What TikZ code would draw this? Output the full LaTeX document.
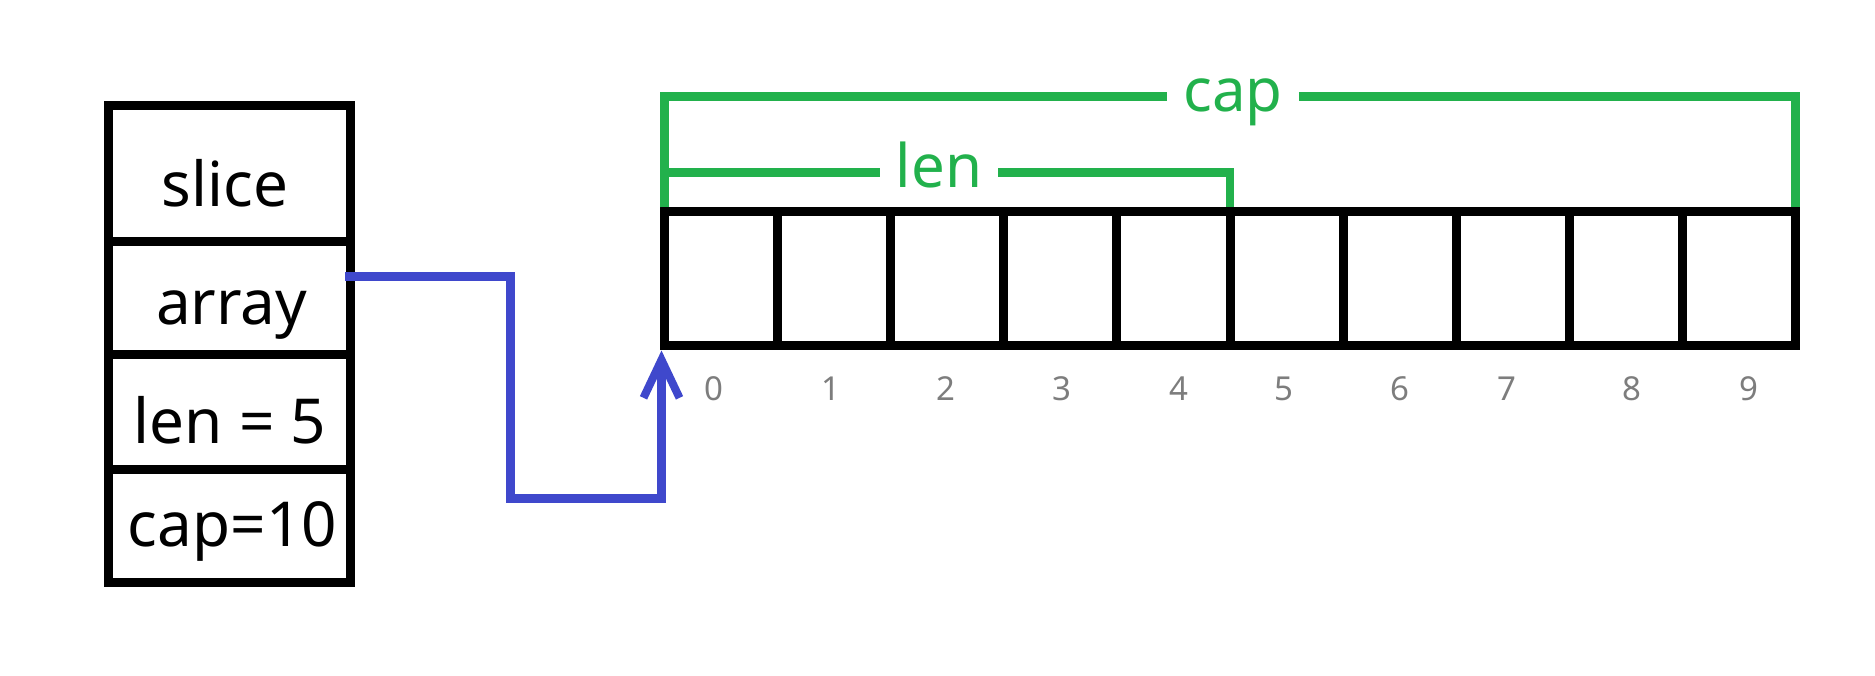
\documentclass[tikz,border=0pt]{standalone}
\usepackage{fontspec}
\setmainfont{Noto Sans}
\usetikzlibrary{arrows.meta,calc}
\definecolor{pblue}{RGB}{63,72,204}
\definecolor{pgreen}{RGB}{34,177,76}
\definecolor{idxgray}{RGB}{125,125,125}
\begin{document}
\begin{tikzpicture}[x=1pt,y=-1pt,
  cellbox/.style={draw=black, line width=9pt, inner sep=0pt, outer sep=0pt, minimum width=242pt},
  boxtext/.style={font=\fontsize{62}{70}\selectfont, inner sep=0pt, anchor=base},
  arrcell/.style={draw=black, line width=9pt, inner sep=0pt, outer sep=0pt, minimum width=113.1pt, minimum height=134pt},
  bracket/.style={draw=pgreen, line width=8.5pt},
  gtext/.style={text=pgreen, font=\fontsize{60}{66}\selectfont, inner xsep=16pt, inner ysep=0pt, text height=40pt, text depth=9.6pt},
  idx/.style={text=idxgray, font=\fontsize{33}{40}\selectfont, inner sep=0pt},
  link/.style={draw=pblue, line width=9pt}]
\useasboundingbox (0,0) rectangle (1875,676);

% slice header box
\node[cellbox, minimum height=136.5pt] (slicecell) at (229,173.75) {};
\node[cellbox, minimum height=113pt] (arraycell) at (229,298.5) {};
\node[cellbox, minimum height=114pt] (lencell) at (229,412) {};
\node[cellbox, minimum height=113pt] (capcell) at (229,525.5) {};
\node[boxtext] (slicet) at (225,206.7) {slice};
\node[boxtext] (arrayt) at (231.7,325) {array};
\node[boxtext] (lent5) at (230,443) {len = 5};
\node[boxtext] (capt10) at (232.5,546.7) {cap=10};

% underlying array
\foreach \i in {0,...,9}
  \node[arrcell] (a\i) at ({664.5+113.1*(\i+0.5)},279) {};

% indices
\foreach \i/\x in {0/714,1/831,2/946,3/1062,4/1179,5/1284,6/1400,7/1507,8/1632,9/1749}
  \node[idx] (idx\i) at (\x,389) {\i};

% len / cap brackets
\node[gtext] (capt) at (1233,96.5) {cap};
\node[gtext] (lent) at (939,172.5) {len};
\draw[bracket, shorten <=4.5pt] (a0.north west) |- (capt.west);
\draw[bracket, shorten >=4.5pt] (capt.east) -| (a9.north east);
\draw[bracket, shorten <=4.5pt] (a0.north west) |- (lent.west);
\draw[bracket, shorten >=4.5pt] (lent.east) -| (a4.north east);

% pointer
\draw[link, -{Straight Barb[length=38pt,width=36pt,line width=8pt]}]
  ([xshift=-5pt]$(arraycell.north east)!0.305!(arraycell.south east)$) -- ++(165,0) -- ++(0,222.5)
  -| ([xshift=-3pt,yshift=-4.5pt]a0.south west);
\end{tikzpicture}
\end{document}
